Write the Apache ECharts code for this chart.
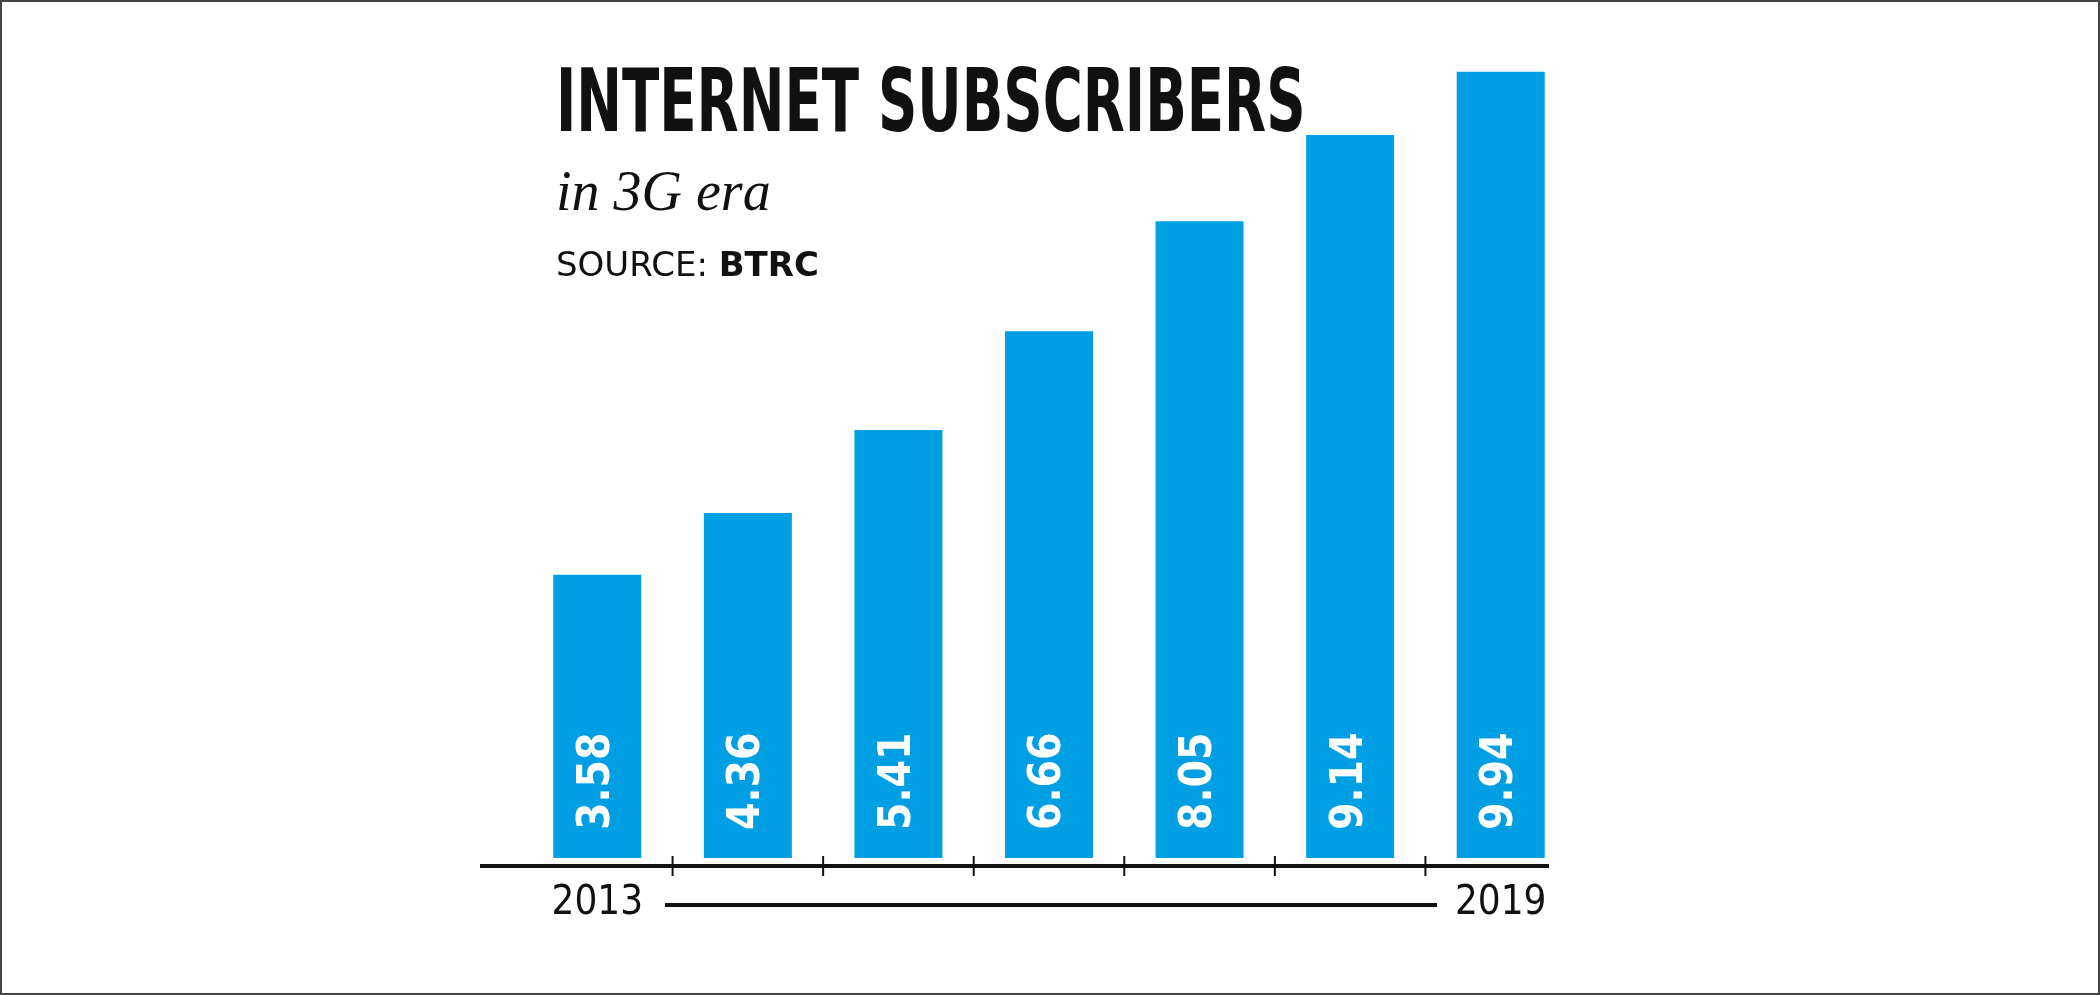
<!DOCTYPE html>
<html><head><meta charset="utf-8">
<script src="https://cdn.jsdelivr.net/npm/echarts@6/dist/echarts.min.js"></script>
<style>html,body{margin:0;padding:0;background:#fff}#c{width:2100px;height:995px;box-sizing:border-box;border:2px solid #444}</style>
</head><body><div id="c"></div>
<script>
const categories = ['2013','2014','2015','2016','2017','2018','2019'];
const subscribers = [3.58, 4.36, 5.41, 6.66, 8.05, 9.14, 9.94];
const narrow = '"DejaVu Sans Condensed", "Liberation Sans Narrow", "DejaVu Sans", sans-serif';
const chart = echarts.init(document.getElementById('c'));
chart.setOption({
  animation:false,
  grid:{left:520,right:522,top:65,bottom:135},
  xAxis:{type:'category',data:categories,axisLine:{show:false},axisTick:{show:false},
    axisLabel:{interval:0,margin:26,color:'#111',fontFamily:narrow,fontSize:40,
      formatter:(v,i)=> (i===0||i===categories.length-1)?v:''}},
  yAxis:{type:'value',min:0,max:10,show:false,splitLine:{show:false}},
  series:[{type:'bar',data:subscribers,barWidth:88,itemStyle:{color:'#009fe3'},
    label:{show:true,position:'insideBottom',rotate:90,align:'left',verticalAlign:'middle',distance:28,
      color:'#fff',fontFamily:narrow,fontWeight:'bold',fontSize:44,formatter:p=>p.value.toFixed(2)}}],
  graphic:[
    {type:'text',left:554,top:62,scaleX:0.69,style:{text:'INTERNET SUBSCRIBERS',font:'bold 88px '+narrow,fill:'#111'}},
    {type:'text',left:554,top:165,style:{text:'in 3G era',font:'italic 56px "Liberation Serif", serif',fill:'#111'}},
    {type:'text',left:554,top:248,style:{rich:{a:{font:'34px "DejaVu Sans", sans-serif',fill:'#111'},b:{font:'bold 34px "DejaVu Sans", sans-serif',fill:'#111'}},text:'{a|SOURCE: }{b|BTRC}'}}
  ]
});
const g = [];
const y0 = chart.convertToPixel({yAxisIndex:0},0);
g.push({type:'line',shape:{x1:478,y1:y0+8,x2:1547,y2:y0+8},style:{stroke:'#111',lineWidth:4}});
for(let i=0;i<categories.length-1;i++){
  const a=chart.convertToPixel({xAxisIndex:0},categories[i]);
  const b=chart.convertToPixel({xAxisIndex:0},categories[i+1]);
  const x=(a+b)/2;
  g.push({type:'line',shape:{x1:x,y1:y0-2,x2:x,y2:y0+18},style:{stroke:'#111',lineWidth:2}});
}
g.push({type:'line',shape:{x1:663,y1:y0+47,x2:1435,y2:y0+47},style:{stroke:'#111',lineWidth:4}});
const opt = chart.getOption();
chart.setOption({graphic:opt.graphic[0].elements.concat(g)},{replaceMerge:['graphic']});
</script></body></html>
